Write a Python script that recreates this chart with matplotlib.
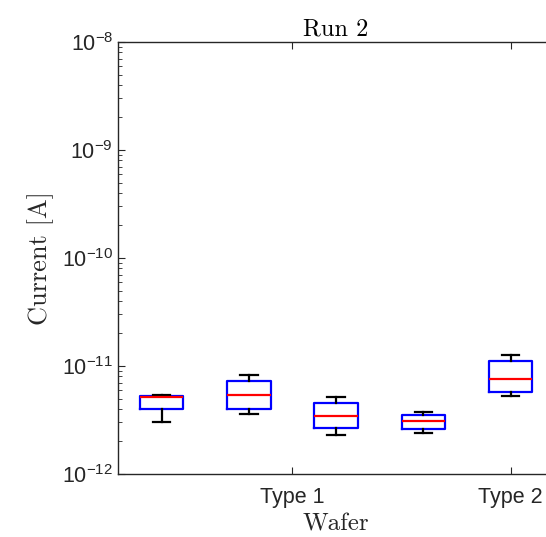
import numpy as np
import matplotlib
matplotlib.use("Agg")
import matplotlib.pyplot as plt
from matplotlib.ticker import FixedLocator, LogLocator, NullFormatter

plt.rcParams["mathtext.fontset"] = "custom"
plt.rcParams["mathtext.rm"] = "Liberation Sans"
plt.rcParams["mathtext.it"] = "Liberation Sans:italic"
plt.rcParams["font.family"] = "Liberation Sans"

# box statistics (A)
positions = [1, 2, 3, 4, 5]
whislo = [3.0e-12, 3.56e-12, 2.30e-12, 2.42e-12, 5.26e-12]
q1 = [4.02e-12, 3.96e-12, 2.64e-12, 2.60e-12, 5.78e-12]
med = [5.15e-12, 5.38e-12, 3.43e-12, 3.08e-12, 7.52e-12]
q3 = [5.31e-12, 7.26e-12, 4.57e-12, 3.53e-12, 1.12e-11]
whishi = [5.38e-12, 8.25e-12, 5.2e-12, 3.74e-12, 1.257e-11]

tick_pos = [2.5, 5]
tick_labels = ["Type 1", "Type 2"]

stats = [
    {"whislo": a, "q1": b, "med": c, "q3": d, "whishi": e, "fliers": []}
    for a, b, c, d, e in zip(whislo, q1, med, q3, whishi)
]

fig = plt.figure(figsize=(5.46, 5.37), dpi=100)
ax = fig.add_axes([0.216, 0.1173, 0.799, 0.8045])

ax.bxp(
    stats, positions=positions, widths=0.5, showfliers=False,
    boxprops=dict(color="#0000ff", linewidth=1.6),
    medianprops=dict(color="#ff0000", linewidth=1.6),
    whiskerprops=dict(color="black", linewidth=1.6),
    capprops=dict(color="black", linewidth=1.6),
    capwidths=0.2,
)

ax.set_yscale("log")
ax.set_ylim(1e-12, 1e-8)
ax.set_xlim(0.5, 5.5)

ax.yaxis.set_major_locator(FixedLocator([1e-12, 1e-11, 1e-10, 1e-9, 1e-8]))
ax.set_yticklabels([r"$10^{-12}$", r"$10^{-11}$", r"$10^{-10}$", r"$10^{-9}$", r"$10^{-8}$"])
ax.yaxis.set_minor_locator(LogLocator(base=10, subs=np.arange(2, 10)))
ax.yaxis.set_minor_formatter(NullFormatter())

ax.set_xticks(tick_pos)
ax.set_xticklabels(tick_labels)

axis_col = "#262626"
for s in ax.spines.values():
    s.set_color(axis_col)
    s.set_linewidth(1.0)
ax.tick_params(axis="both", which="both", direction="in", top=True, right=True,
               colors=axis_col, labelcolor=axis_col)
ax.tick_params(axis="both", which="major", length=5, labelsize=15.5)
ax.tick_params(axis="y", which="minor", length=3)
ax.tick_params(axis="x", which="major", pad=9)

ax.set_title("Run 2", family="cmr10", fontsize=17.5, color="black", pad=5)
ax.set_xlabel("Wafer", family="cmr10", fontsize=18, color=axis_col, labelpad=4)
ax.set_ylabel("Current [A]", family="cmr10", fontsize=19, color=axis_col, labelpad=6)

fig.savefig("out.png", dpi=100)
